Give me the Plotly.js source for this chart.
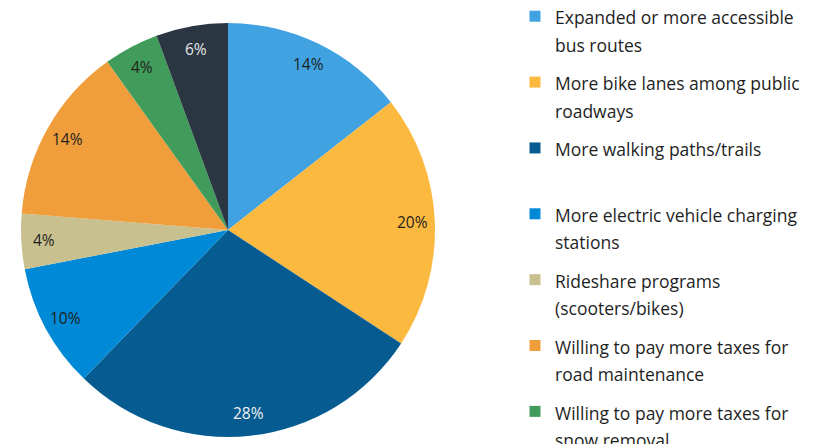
<!DOCTYPE html>
<html><head><meta charset="utf-8">
<script src="https://cdn.plot.ly/plotly-3.0.1.min.js"></script>
<style>html,body{margin:0;padding:0;background:#fff}#chart{width:819px;height:448px}</style>
</head><body><div id="chart"></div>
<script>
// Categories, clockwise from 12 o'clock (legend lines split with <br>)
const categories = [
  "Expanded or more accessible<br>bus routes",
  "More bike lanes among public<br>roadways",
  "More walking paths/trails<br>\u00a0",
  "More electric vehicle charging<br>stations",
  "Rideshare programs<br>(scooters/bikes)",
  "Willing to pay more taxes for<br>road maintenance",
  "Willing to pay more taxes for<br>snow removal",
  "Other<br>\u00a0"
];
const shares = [14.4, 19.8, 28.0, 9.7, 4.3, 13.8, 4.3, 5.6];
const sliceColors = ["#41A2E2", "#FBB940", "#065C91", "#0089D6", "#C9C08F", "#F09E3B", "#419B5A", "#2B3643"];
const labelColors = ["#1f1f1f", "#1f1f1f", "#f2f2f2", "#1f1f1f", "#1f1f1f", "#1f1f1f", "#1f1f1f", "#e6e6e6"];

const FONT = "'Open Sans', 'Noto Sans', sans-serif";
const W = 819, H = 448;
const domX = [21/819, 435/819];
const domY = [11/448, 425/448];

const pie = {
  type: 'pie',
  labels: categories,
  values: shares,
  sort: false,
  direction: 'clockwise',
  rotation: 0,
  marker: {colors: sliceColors, line: {width: 0}},
  textinfo: 'none',
  hoverinfo: 'label+percent',
  showlegend: false,
  domain: {x: domX, y: domY}
};

// Legend entries (one per category, in category order)
const legendTraces = categories.map((c, i) => ({
  type: 'scatter', mode: 'markers',
  x: [null], y: [null],
  name: '<span style="font-size:17.5px">' + c + '</span>',
  legendgroup: 'g' + i,
  marker: {symbol: 'square', size: 11, color: sliceColors[i], line: {width: 0}},
  hoverinfo: 'skip'
}));

// Percentage labels placed near the outer edge of each slice, from the shares
const total = shares.reduce((a, b) => a + b, 0);
const cx = (domX[0] + domX[1]) / 2 * W;
const cy = (1 - (domY[0] + domY[1]) / 2) * H;
const R = Math.min((domX[1] - domX[0]) * W, (domY[1] - domY[0]) * H) / 2;
let cum = 0;
const annotations = shares.map((v, i) => {
  const theta = (cum + v / 2) / total * 2 * Math.PI;
  cum += v;
  const px = cx + 0.89 * R * Math.sin(theta);
  const py = cy - 0.89 * R * Math.cos(theta);
  return {
    xref: 'paper', yref: 'paper', x: px / W, y: 1 - py / H,
    xanchor: 'center', yanchor: 'middle', showarrow: false,
    text: Math.round(v / total * 100) + '%',
    font: {family: FONT, size: 15.5, color: labelColors[i]}
  };
});

const layout = {
  width: W, height: H,
  margin: {l: 0, r: 0, t: 0, b: 0, autoexpand: false},
  paper_bgcolor: '#ffffff', plot_bgcolor: 'rgba(0,0,0,0)',
  font: {family: FONT, color: '#1f1f1f'},
  xaxis: {visible: false, fixedrange: true},
  yaxis: {visible: false, fixedrange: true},
  showlegend: true,
  legend: {
    x: 515/819, xanchor: 'left', y: 1 + 4/448, yanchor: 'top',
    font: {family: FONT, size: 21.1, color: '#1f1f1f'},
    valign: 'top', itemwidth: 30, borderwidth: 0, bgcolor: 'rgba(0,0,0,0)',
    traceorder: 'grouped', tracegroupgap: 8.0, maxheight: 1
  },
  annotations: annotations
};

Plotly.newPlot('chart', [pie].concat(legendTraces), layout, {displayModeBar: false, staticPlot: true});
</script>
</body></html>
